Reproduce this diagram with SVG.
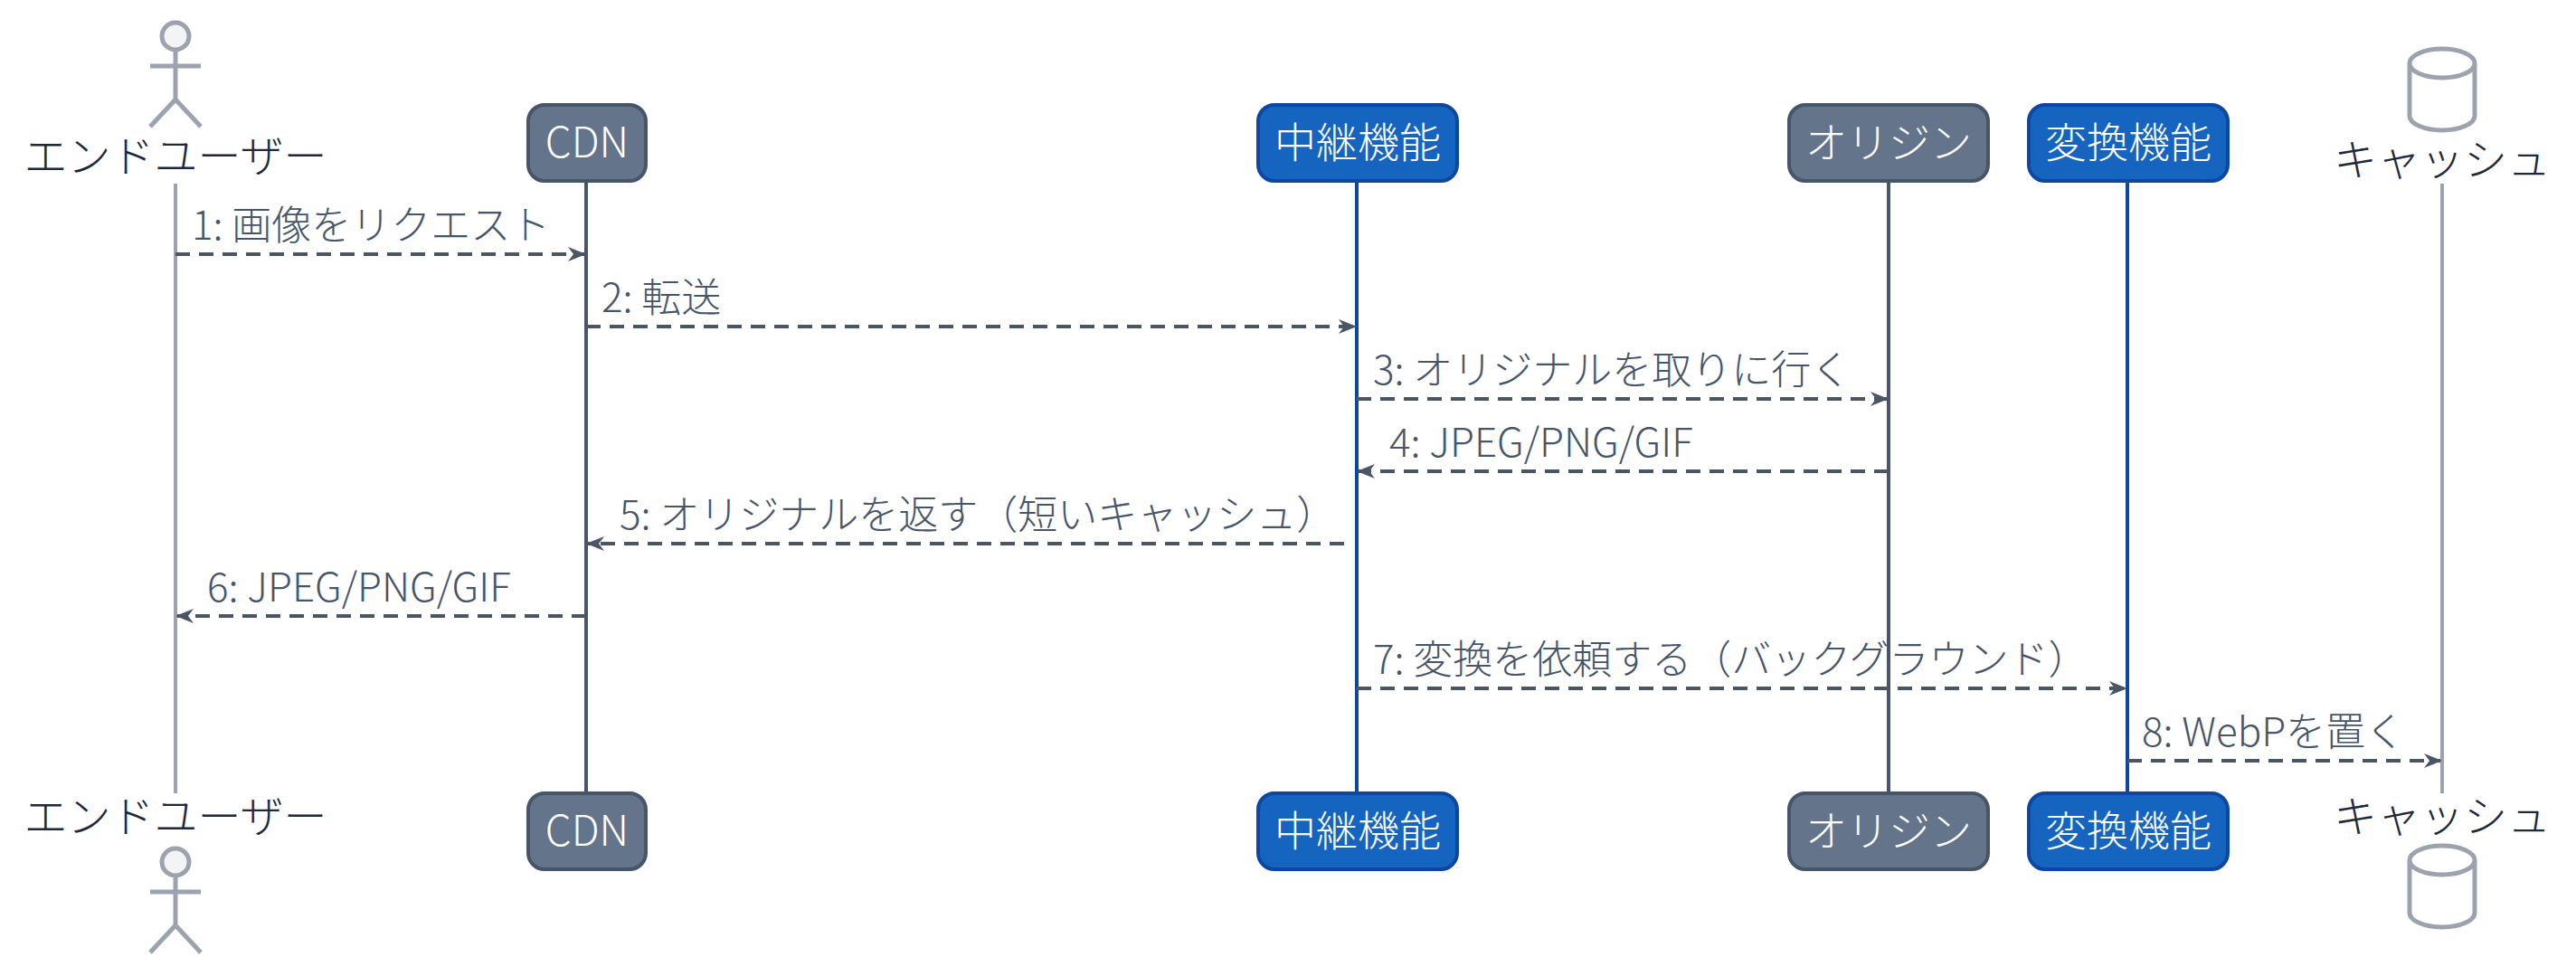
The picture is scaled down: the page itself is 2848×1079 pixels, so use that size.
<svg xmlns="http://www.w3.org/2000/svg" width="2848" height="1079" viewBox="0 0 2848 1079">
<style>
text{font-family:"Noto Sans CJK JP","Noto Sans",sans-serif;font-weight:300}
.lbl{font-size:48px;fill:#1e293b;text-anchor:middle}
.bt{font-size:46px;fill:#fff;text-anchor:middle}
.msg{font-size:44px;fill:#475569}
.gbox{fill:#64748b;stroke:#475569;stroke-width:4}
.bbox{fill:#1565c0;stroke:#0d47a1;stroke-width:4}
.fig{fill:none;stroke:#9ca3af;stroke-width:5}
.arr{stroke:#4b5563;stroke-width:4;stroke-dasharray:16 10;fill:none;marker-end:url(#ah)}
</style>
<defs>
<marker id="ah" viewBox="0 0 20 20" refX="18" refY="10" markerWidth="20" markerHeight="20" markerUnits="userSpaceOnUse" orient="auto"><path d="M0,2 L20,10 L0,18 L6,10 Z" fill="#4b5563"/></marker>
</defs>
<rect width="2848" height="1079" fill="#fff"/>
<g id="lifelines">
<line x1="194" y1="203" x2="194" y2="877" stroke="#9ca3af" stroke-width="4"/>
<line x1="648" y1="200" x2="648" y2="877" stroke="#475569" stroke-width="4"/>
<line x1="1500" y1="200" x2="1500" y2="877" stroke="#0d47a1" stroke-width="4"/>
<line x1="2088" y1="200" x2="2088" y2="877" stroke="#475569" stroke-width="4"/>
<line x1="2352" y1="200" x2="2352" y2="877" stroke="#0d47a1" stroke-width="4"/>
<line x1="2700" y1="203" x2="2700" y2="877" stroke="#9ca3af" stroke-width="4"/>
</g>
<g id="user">
<circle cx="194" cy="40" r="15" fill="#f3f4f6" stroke="#9ca3af" stroke-width="5"/>
<path class="fig" d="M194,55 V110 M166,73 H222 M166,140 L194,110 L222,140"/>
<text class="lbl" x="194" y="190">エンドユーザー</text>
<text class="lbl" x="194" y="920">エンドユーザー</text>
<circle cx="194" cy="953" r="15" fill="#f3f4f6" stroke="#9ca3af" stroke-width="5"/>
<path class="fig" d="M194,968 V1023 M166,986 H222 M166,1053 L194,1023 L222,1053"/>
</g>
<g id="cdn">
<rect class="gbox" x="584" y="116" width="130" height="84" rx="18"/>
<text class="bt" x="649" y="174">CDN</text>
<rect class="gbox" x="584" y="877" width="130" height="84" rx="18"/>
<text class="bt" x="649" y="935">CDN</text>
</g>
<g id="relay">
<rect class="bbox" x="1391" y="116" width="220" height="84" rx="18"/>
<text class="bt" x="1501" y="174">中継機能</text>
<rect class="bbox" x="1391" y="877" width="220" height="84" rx="18"/>
<text class="bt" x="1501" y="935">中継機能</text>
</g>
<g id="origin">
<rect class="gbox" x="1978" y="116" width="220" height="84" rx="18"/>
<text class="bt" x="2088" y="174">オリジン</text>
<rect class="gbox" x="1978" y="877" width="220" height="84" rx="18"/>
<text class="bt" x="2088" y="935">オリジン</text>
</g>
<g id="convert">
<rect class="bbox" x="2243" y="116" width="220" height="84" rx="18"/>
<text class="bt" x="2353" y="174">変換機能</text>
<rect class="bbox" x="2243" y="877" width="220" height="84" rx="18"/>
<text class="bt" x="2353" y="935">変換機能</text>
</g>
<g id="cache">
<path d="M2664,70 A36,16 0 0 1 2736,70 V128 A36,16 0 0 1 2664,128 Z M2664,70 A36,16 0 0 0 2736,70" fill="#fff" stroke="#9ca3af" stroke-width="5"/>
<text class="lbl" x="2700" y="194">キャッシュ</text>
<text class="lbl" x="2700" y="920">キャッシュ</text>
<path d="M2664,951 A36,16 0 0 1 2736,951 V1009 A36,16 0 0 1 2664,1009 Z M2664,951 A36,16 0 0 0 2736,951" fill="#fff" stroke="#9ca3af" stroke-width="5"/>
</g>
<g id="connectors">
<line class="arr" x1="194" y1="281" x2="646" y2="281"/>
<text class="msg" x="212" y="265">1: 画像をリクエスト</text>
<line class="arr" x1="648" y1="361" x2="1498" y2="361"/>
<text class="msg" x="665" y="345">2: 転送</text>
<line class="arr" x1="1500" y1="441" x2="2086" y2="441"/>
<text class="msg" x="1518" y="425">3: オリジナルを取りに行く</text>
<line class="arr" x1="2088" y1="521" x2="1502" y2="521"/>
<text class="msg" x="1536" y="505">4: JPEG/PNG/GIF</text>
<line class="arr" x1="1486" y1="601" x2="650" y2="601"/>
<text class="msg" x="685" y="585">5: オリジナルを返す（短いキャッシュ）</text>
<line class="arr" x1="648" y1="681" x2="196" y2="681"/>
<text class="msg" x="229" y="665">6: JPEG/PNG/GIF</text>
<line class="arr" x1="1500" y1="761" x2="2350" y2="761"/>
<text class="msg" x="1518" y="745">7: 変換を依頼する（バックグラウンド）</text>
<line class="arr" x1="2352" y1="841" x2="2698" y2="841"/>
<text class="msg" x="2368" y="825">8: WebPを置く</text>
</g>
</svg>
